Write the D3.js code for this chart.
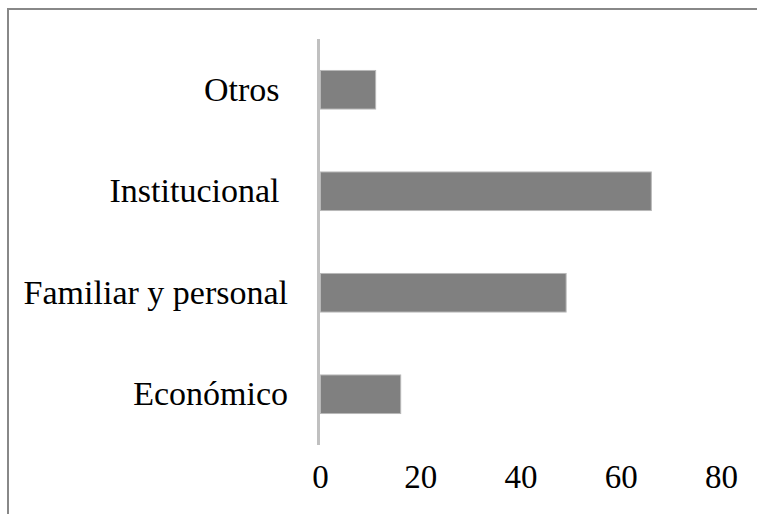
<!DOCTYPE html>
<html>
<head>
<meta charset="utf-8">
<script src="https://cdn.jsdelivr.net/npm/d3@7"></script>
<style>
  body { margin: 0; background: #fff; }
  text { font-family: "Liberation Serif", "DejaVu Serif", serif; fill: #000; white-space: pre; }
</style>
</head>
<body>
<div id="container"></div>
<script>
/* DATA */
const categories = ["Otros ", "Institucional ", "Familiar y personal", "Económico"];
const values = [11, 66, 49, 16];
const tickValues = [0, 20, 40, 60, 80];

/* CONSTANTS */
const width = 757,
  height = 514;

const svg = d3.select("#container")
  .append("svg")
  .attr("width", width)
  .attr("height", height);

// frame around the chart (right and bottom run off the page)
svg.append("rect")
  .attr("x", 8)
  .attr("y", 9)
  .attr("width", 800)
  .attr("height", 600)
  .attr("fill", "none")
  .attr("stroke", "#888")
  .attr("stroke-width", 2);

// SCALES
const xScale = d3.scaleLinear()
  .domain([0, 80])
  .range([320, 721]);

const yScale = d3.scaleBand()
  .domain(categories)
  .range([39, 445])
  .paddingInner(0.62)
  .paddingOuter(0.31);

// BARS
svg.selectAll("rect.bar")
  .data(categories.map((c, i) => ({ cat: c, value: values[i] })))
  .join("rect")
  .attr("class", "bar")
  .attr("x", xScale(0) + 0.5)
  .attr("y", d => yScale(d.cat))
  .attr("width", d => xScale(d.value) - xScale(0))
  .attr("height", yScale.bandwidth())
  .attr("fill", "#808080")
  .attr("stroke", "#b8b8b8")
  .attr("stroke-width", 1);

// vertical axis line
svg.append("line")
  .attr("x1", xScale(0) - 1.5)
  .attr("x2", xScale(0) - 1.5)
  .attr("y1", 39)
  .attr("y2", 445)
  .attr("stroke", "#c0c0c0")
  .attr("stroke-width", 3);

// category labels
svg.selectAll("text.cat")
  .data(categories)
  .join("text")
  .attr("class", "cat")
  .attr("x", 288)
  .attr("y", d => yScale(d) + yScale.bandwidth() / 2)
  .attr("text-anchor", "end")
  .attr("dy", "0.33em")
  .attr("font-size", "34px")
  .text(d => d);

// x axis ticks
const xAxis = svg.append("g")
  .attr("transform", "translate(0, 465)")
  .call(d3.axisBottom(xScale)
    .tickValues(tickValues)
    .tickSize(0)
    .tickPadding(0));

xAxis.select(".domain").remove();
xAxis.selectAll("text")
  .attr("font-family", "Liberation Serif, serif")
  .attr("font-size", "33px")
  .attr("fill", "#000")
  .attr("dy", "0.71em");
</script>
</body>
</html>
